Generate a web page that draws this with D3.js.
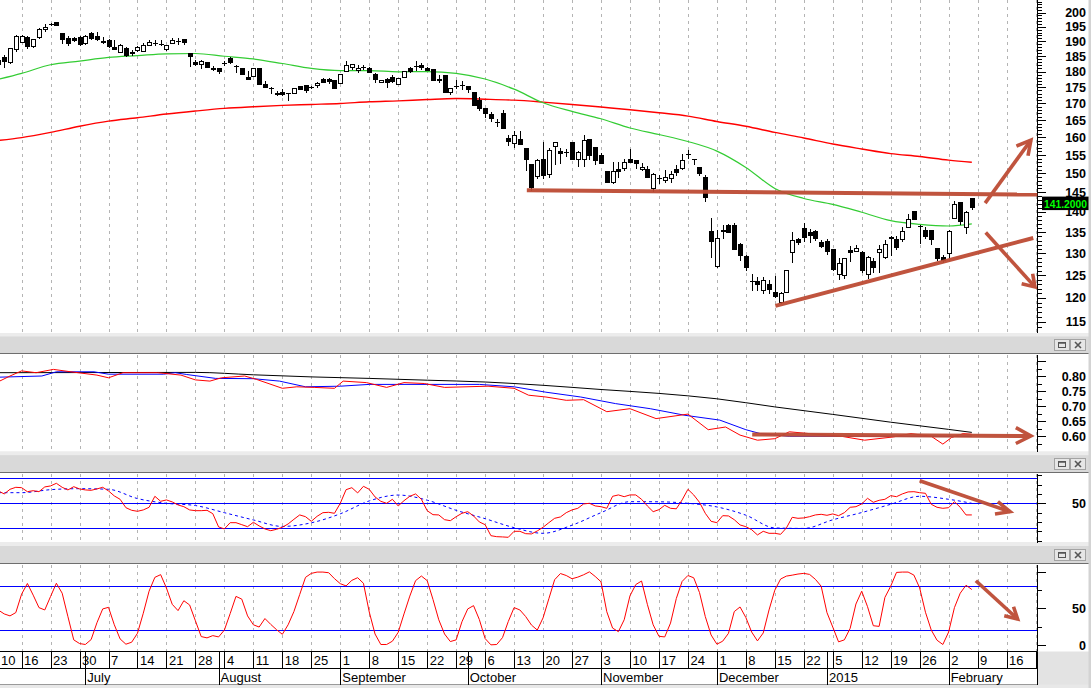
<!DOCTYPE html>
<html><head><meta charset="utf-8">
<script src="https://cdn.jsdelivr.net/npm/d3@7"></script>
<style>
html,body{margin:0;padding:0;background:#fff;}
svg{display:block;font-family:"Liberation Sans",Arial,sans-serif;}
</style></head><body>
<svg id="c" width="1091" height="688"></svg>
<script>
// ---------------- DATA ----------------
const START = -4; // bar index of first candle (Jun 10, 2014); index 0 = Jun 16
const open = [183.8,184.8,183.2,187.3,189.9,191.4,188.5,191.6,194.1,195.8,196.6,192.7,191.0,191.0,191.4,189.4,192.7,191.9,190.1,190.5,188.2,186.5,187.7,186.4,187.1,186.9,188.8,189.5,189.1,187.5,189.4,189.9,190.7,186.0,183.2,182.4,183.1,181.0,181.0,182.6,184.3,181.6,181.0,178.4,178.7,181.0,176.0,174.8,173.3,173.6,173.1,173.1,175.3,175.6,175.0,175.6,177.5,177.6,177.3,176.3,180.3,181.6,180.5,181.3,181.0,179.2,176.6,177.6,178.4,175.9,178.4,181.3,181.4,182.2,181.2,180.7,177.6,178.9,173.4,175.3,175.6,175.3,173.4,171.0,168.5,166.8,164.3,167.0,159.9,158.5,159.5,157.1,152.5,149.3,153.8,149.7,157.6,156.1,155.8,158.6,153.8,153.8,159.5,157.2,155.0,150.7,147.6,151.2,151.4,153.9,153.6,151.1,151.2,146.2,148.6,148.3,148.7,151.1,151.4,155.0,153.8,151.7,149.0,135.3,127.1,135.6,136.8,136.8,132.1,129.3,123.8,123.7,121.7,123.0,121.2,119.2,121.3,130.2,133.3,135.9,135.0,135.3,132.7,132.9,131.0,125.3,125.1,130.8,130.6,130.4,125.3,128.3,130.3,129.2,133.9,133.3,133.3,136.2,140.3,136.5,135.5,135.5,131.2,129.2,130.0,138.4,142.4,136.3,143.4];
const high = [184.0,185.4,187.9,192.2,192.2,191.8,190.8,194.5,196.0,196.2,196.7,192.7,191.8,191.5,191.8,192.2,193.1,193.1,191.4,190.8,190.5,189.0,188.0,187.1,188.4,189.4,190.3,190.5,190.4,188.9,191.0,191.0,190.9,186.1,183.6,183.6,183.2,181.8,181.1,183.3,184.6,182.2,181.2,180.3,181.1,181.1,177.0,175.0,173.8,174.3,173.2,174.9,175.4,175.6,175.5,176.5,177.8,178.0,177.3,179.2,183.3,182.6,182.2,182.2,181.6,179.5,177.3,177.8,178.9,178.0,180.3,181.5,183.3,182.7,181.6,180.7,178.9,178.9,174.9,177.3,177.0,175.5,173.6,172.0,168.6,167.3,165.3,168.0,160.7,161.9,161.9,157.1,152.5,153.8,158.7,156.9,158.6,156.9,156.6,158.6,156.0,160.7,159.5,157.2,155.7,150.7,153.0,153.0,154.0,156.7,153.7,152.7,152.0,150.0,149.6,150.9,150.7,152.2,155.4,156.4,153.9,151.7,149.6,138.4,135.5,136.8,136.9,137.3,132.3,129.5,125.2,124.6,124.6,123.9,124.7,121.3,126.2,135.1,133.5,137.3,135.8,135.5,133.2,133.3,131.0,128.8,128.9,131.7,132.0,130.6,129.4,129.0,131.9,133.2,134.1,134.0,136.2,139.5,140.3,136.8,136.2,135.5,131.2,129.7,135.6,142.7,142.6,140.2,143.6];
const low = [181.7,181.6,182.9,186.9,189.9,187.9,188.2,191.0,193.7,195.6,195.5,189.4,188.8,190.1,188.8,189.1,190.7,190.5,189.6,188.2,187.4,186.4,185.1,185.4,186.8,186.8,188.7,188.8,188.8,187.0,189.3,189.0,189.1,181.9,182.2,181.2,181.6,180.5,179.4,182.2,182.7,180.0,179.2,177.5,178.7,175.9,175.1,173.1,172.6,172.6,171.2,173.1,174.3,173.6,174.7,175.0,176.6,176.3,174.8,176.3,180.3,180.7,179.7,180.7,179.7,176.8,176.6,175.1,176.8,175.9,178.4,180.0,180.5,180.8,180.4,177.3,176.5,173.6,172.8,174.9,174.6,173.6,169.5,168.0,166.0,164.8,163.3,162.6,157.9,157.2,158.1,150.9,145.6,148.7,148.7,149.0,152.6,152.9,154.6,153.8,151.9,151.9,153.8,152.4,152.9,147.8,147.3,149.1,150.9,153.1,151.4,150.9,148.9,145.4,147.4,147.8,147.8,149.6,151.2,154.1,152.6,149.6,142.7,129.2,126.9,133.5,135.1,131.0,128.4,126.2,121.7,121.7,121.0,121.0,120.2,118.9,121.3,128.0,132.2,132.9,132.6,133.1,131.4,129.8,126.2,124.1,124.3,128.3,130.5,125.8,124.3,125.6,125.6,129.0,129.6,131.0,133.0,136.2,138.2,132.5,133.5,132.1,128.4,127.9,129.0,138.4,137.0,134.9,140.7];
const close = [182.6,183.4,187.7,191.8,191.8,188.5,190.7,194.1,195.0,196.0,195.6,190.7,189.4,190.4,189.1,191.8,191.0,190.8,189.8,188.5,187.5,188.8,185.4,186.2,188.0,188.8,189.8,189.3,189.2,188.8,190.3,190.0,189.7,185.1,182.4,183.5,181.6,180.9,180.3,182.8,183.1,181.7,179.2,177.5,181.0,175.9,175.1,174.9,172.8,172.9,173.2,174.8,174.3,174.1,175.2,176.3,176.8,177.0,174.8,179.2,182.2,182.4,181.2,181.4,179.9,177.6,177.3,176.6,177.1,178.0,180.2,180.3,181.8,181.4,180.5,177.3,177.2,173.6,174.8,175.5,175.7,174.3,169.5,168.5,167.2,165.5,164.4,162.6,158.9,160.7,158.1,153.8,146.4,153.6,149.6,156.4,158.6,155.5,155.9,153.8,155.9,159.2,155.0,153.6,152.9,147.8,150.7,150.5,153.0,153.2,152.7,151.7,148.9,149.7,148.7,148.9,149.9,150.4,153.6,155.2,153.8,150.2,143.7,133.0,133.5,135.4,135.1,131.0,129.6,126.9,123.7,123.0,123.9,121.9,120.4,121.0,126.2,133.1,132.7,133.9,134.3,133.7,131.8,130.6,126.4,127.7,128.8,130.3,131.2,126.2,129.2,126.9,131.0,132.2,133.7,131.4,135.2,138.2,138.3,136.4,134.1,133.3,128.8,128.4,135.2,142.0,137.8,140.0,141.2];

// moving averages (sampled)
const maIdx = [-4,0,5,10,15,20,25,30,35,40,45,50,55,60,65,70,75,80,85,90,95,100,105,110,115,120,125,130,135,140,145,150,155,160,164];
const maFast = [177.5,179.4,182.2,183.4,184.6,185.2,185.8,185.9,185.0,184.1,182.6,181.0,180.3,180.3,179.9,180.0,179.4,177.6,174.4,170.2,167.6,165.4,162.7,160.8,158.8,156.1,151.6,146.0,143.4,141.9,139.9,137.8,136.9,136.5,137.0];
const maSlow = [159.1,159.9,161.4,163.2,164.7,165.7,166.8,167.7,168.5,169.0,169.4,169.7,170.0,170.5,170.8,171.2,171.5,171.3,171.0,170.4,169.7,168.9,168.1,167.2,166.2,164.6,163.2,161.4,159.8,158.1,156.7,155.4,154.6,153.6,153.0];

// ratio panel
const ratioBlackIdx = [-4,30,40,50,60,70,80,90,100,110,120,130,140,150,160,164];
const ratioBlack = [0.811,0.812,0.804,0.797,0.792,0.786,0.780,0.769,0.755,0.742,0.724,0.697,0.672,0.646,0.622,0.612];
const ratioBlueIdx = [-4,3.5,6,12.5,15,24.5,26.5,28.5,33.5,40,44.5,49,55,60,79,85,90.5,96.5,102.5,108.5,114.5,120.5,125,127.5,132.5,164];
const ratioBlue = [0.796,0.800,0.814,0.814,0.806,0.806,0.811,0.805,0.792,0.791,0.783,0.764,0.766,0.772,0.772,0.764,0.746,0.730,0.708,0.691,0.669,0.653,0.621,0.608,0.599,0.599];
const ratioRedIdx = [-4,-2,0,2.5,5.5,8.5,13,15,17.5,23.5,27.5,30,32.5,34.5,38.5,40.5,45,47.5,50.5,54,55.5,59.5,63,66,69.5,73,80.5,85,87.5,90.5,94,97,101,105,109.5,115,118.5,121.5,124,127,130,132.5,136,141.5,145.5,150.5,153.5,157,159,160.5,162.5,164];
const ratioRed = [0.781,0.800,0.817,0.811,0.822,0.814,0.803,0.794,0.811,0.811,0.803,0.787,0.783,0.794,0.800,0.789,0.759,0.764,0.762,0.759,0.783,0.778,0.762,0.778,0.775,0.762,0.766,0.759,0.736,0.730,0.719,0.721,0.681,0.691,0.658,0.673,0.621,0.630,0.603,0.586,0.591,0.614,0.608,0.599,0.586,0.597,0.608,0.599,0.573,0.595,0.608,0.606];

// oscillator panel (daily, from START)
const osc = [59.9,57.5,61.2,62.8,62.5,59.3,60.1,59.3,63.1,63.9,66.0,62.8,60.7,63.3,61.5,60.7,60.4,61.5,62.8,59.9,55.9,53.2,46.5,44.4,43.6,44.7,46.8,55.6,51.6,52.7,51.1,48.7,47.3,44.7,44.1,44.1,44.4,41.7,31.1,29.5,34.5,34.5,32.9,31.3,34.8,31.9,29.5,28.1,29.2,30.8,33.5,37.2,40.7,39.3,35.6,39.6,42.5,42.8,42.0,50.0,60.9,62.5,58.3,63.6,61.2,55.1,51.6,50.0,53.2,47.9,52.1,55.6,57.5,53.2,44.1,40.9,40.7,36.9,36.1,39.3,42.0,43.3,39.9,35.1,32.9,24.1,23.3,23.1,22.8,27.6,27.6,25.7,25.5,27.9,30.8,34.5,38.0,39.1,42.5,44.7,46.0,49.5,50.0,47.9,47.3,46.0,55.6,56.7,55.3,56.7,56.7,53.2,47.9,43.3,44.9,48.4,46.0,45.6,52.7,61.2,56.7,50.8,42.0,35.6,34.5,40.1,39.9,36.9,32.7,31.3,28.9,24.7,27.6,26.0,26.0,25.2,30.3,38.8,38.0,38.3,39.3,40.7,41.2,40.4,41.5,40.1,42.5,46.8,47.3,49.5,54.0,50.8,52.4,53.2,56.1,55.3,57.5,59.1,59.3,58.5,58.0,49.2,46.8,46.0,46.5,51.3,46.8,40.7,40.7];
const oscSigIdx = [-4,0,5,10,15,20,25,30,35,40,45,50,55,60,65,70,75,80,85,90,95,100,105,110,115,120,125,130,135,140,145,150,155,160,164];
const oscSig = [58.5,58.5,60.9,61.7,61.2,53.8,50.0,48.2,42.5,36.7,31.5,34.4,41.6,51.9,56.6,52.5,44.4,37.7,30.5,26.0,32.5,42.5,51.3,51.2,50.0,47.1,40.5,30.3,29.9,36.8,42.6,49.2,55.6,53.2,50.0];

// stochastic panel (daily, from START)
const stoch = [47.6,42.4,39.7,44.2,69.4,83.9,68.0,51.0,47.8,66.2,84.2,70.7,38.6,7.0,2.0,0.7,7.4,30.3,49.2,51.4,27.6,8.3,1.1,3.8,16.0,43.3,73.4,92.3,96.0,77.7,55.5,46.9,60.4,54.6,33.0,11.5,9.7,12.8,11.0,20.4,42.9,66.3,62.6,39.7,27.6,24.5,36.1,28.1,20.9,14.6,27.6,45.6,68.9,92.3,97.7,99.5,99.5,98.6,90.5,83.7,80.6,88.2,91.8,84.2,45.1,15.0,0.7,0.7,5.2,17.3,42.4,66.7,87.8,94.1,87.8,62.2,34.4,15.0,4.7,7.0,31.7,49.2,53.7,34.8,8.8,0.2,0.7,10.1,32.1,51.0,47.8,38.8,27.2,20.4,37.0,63.1,89.1,97.5,94.8,90.4,92.6,95.8,99.8,93.5,86.2,45.4,23.1,18.2,34.4,67.1,82.4,87.3,55.5,27.6,11.9,11.0,29.9,63.5,86.7,94.8,91.7,71.6,38.8,13.7,1.1,5.2,15.9,45.6,51.9,37.5,17.7,5.6,16.4,47.8,74.8,90.0,94.0,95.3,96.8,97.7,96.3,89.6,80.2,44.2,24.5,4.3,7.0,22.7,55.9,73.4,52.3,26.3,25.4,64.9,80.2,99.0,99.5,99.5,95.4,77.9,44.7,20.4,6.5,0.7,17.7,51.0,70.7,81.5,75.7];

// axis labels
const weekIdx = [-4,0,5,10,15,20,25,30,35,40,45,50,55,60,65,70,75,80,85,90,95,100,105,110,115,120,125,130,135,140,145,150,155,160,165,170,175];
const weekLabels = ["10","16","23","30","7","14","21","28","4","11","18","25","1","8","15","22","29","6","13","20","27","3","10","17","24","1","8","15","22","5","12","19","26","2","9","16","23"];
const monthIdx = [11,34,55,77,100,120,139,160];
const monthLabels = ["July","August","September","October","November","December","2015","February"];
const priceTicks = [115,120,125,130,135,140,145,150,155,160,165,170,175,180,185,190,195,200];
const ratioTicks = [0.60,0.65,0.70,0.75,0.80];

// annotations (bar index / value)
const resistIdx=[87.2,175.3], resistVal=[145.5,144.4];
const supportIdx=[130.1,174.6], supportVal=[118.3,133.6];
const upIdx=[166.3,174.2], upVal=[142.2,159.2], upHeadIdx=[171.7,174.2,173.7], upHeadVal=[157.5,159.2,154.8];
const dnIdx=[166.4,174.9], dnVal=[134.9,122.4], dnHeadIdx=[172.6,174.9,174.5], dnHeadVal=[123.1,122.4,125.3];
const rArIdx=[126.1,174.2], rArVal=[0.605,0.600], rHeadIdx=[171.6,174.2,171.6], rHeadVal=[0.628,0.600,0.575];
const oArIdx=[155,170.6], oArVal=[68.1,43.3], oHeadIdx=[168.5,170.6,168], oHeadVal=[51.3,43.3,41.4];
const sArIdx=[164.7,171.9], sArVal=[87.7,35.5], sHeadIdx=[169.6,171.9,171.2], sHeadVal=[40,35.5,52.2];

// ---------------- CHART ----------------
const svg = d3.select('#c');
const AX = 1037.5;
const x = d3.scaleLinear().domain([0,175]).range([21.6, 21.6+175*5.794]);
const yP = d3.scaleLog().domain([115,200]).range([321.7,12.7]);
const yR = d3.scaleLinear().domain([0.6,0.8]).range([436,376]);
const yO = d3.scaleLinear().domain([30,70]).range([528.3,478.3]);
const yS = d3.scaleLinear().domain([0,100]).range([645,571.7]);

const panels = [
  {id:'p1', top:0, bottom:333},
  {id:'p2', top:354.5, bottom:451.7},
  {id:'p3', top:473.5, bottom:542.5},
  {id:'p4', top:564.5, bottom:651.5}
];
const defs = svg.append('defs');
panels.forEach(p=>{
  defs.append('clipPath').attr('id','clip-'+p.id).append('rect')
    .attr('x',0).attr('y',p.top).attr('width',AX).attr('height',p.bottom-p.top);
});
defs.append('clipPath').attr('id','clip-axis').append('rect').attr('x',0).attr('y',650).attr('width',AX).attr('height',38);

svg.append('rect').attr('width',1091).attr('height',688).attr('fill','#fff');

// gridlines
const gridIdx = d3.range(0,176,5);
panels.forEach(p=>{
  svg.append('g').attr('clip-path',`url(#clip-${p.id})`).attr('shape-rendering','crispEdges')
    .selectAll('line').data(gridIdx).join('line')
    .attr('x1',d=>Math.round(x(d))+0.5).attr('x2',d=>Math.round(x(d))+0.5)
    .attr('y1',p.top).attr('y2',p.bottom)
    .attr('stroke','#b4b4b4').attr('stroke-dasharray','3,4').attr('stroke-width',1);
});

// headers
const headers = [{y:333},{y:451.7},{y:542.5}];
const hdrEnds = [354,473,564];
headers.forEach((h,k)=>{
  const end = hdrEnds[k];
  svg.append('rect').attr('x',0).attr('y',h.y).attr('width',1091).attr('height',end-h.y).attr('fill','#d9d9d9');
  svg.append('rect').attr('x',0).attr('y',h.y).attr('width',1091).attr('height',3.5).attr('fill','#ececec');
  svg.append('line').attr('x1',0).attr('x2',1091).attr('y1',end-0.5).attr('y2',end-0.5).attr('stroke','#6e6e6e');
  const by = end-14.5;
  [1054.5,1070.5].forEach((bx,j)=>{
    svg.append('rect').attr('x',bx).attr('y',by).attr('width',15).attr('height',11)
      .attr('fill','#e6e6e6').attr('stroke','#a3a3a3');
    if (j===0){
      svg.append('rect').attr('x',bx+4).attr('y',by+3).attr('width',7).attr('height',5)
        .attr('fill','none').attr('stroke','#555').attr('stroke-width',1);
      svg.append('line').attr('x1',bx+4).attr('x2',bx+11).attr('y1',by+3.5).attr('y2',by+3.5).attr('stroke','#555').attr('stroke-width',1.5);
    } else {
      svg.append('path').attr('d',`M${bx+4.5},${by+2.5}L${bx+10.5},${by+8.5}M${bx+10.5},${by+2.5}L${bx+4.5},${by+8.5}`)
        .attr('stroke','#555').attr('stroke-width',1.6);
    }
  });
});

// ---- price panel ----
const gP = svg.append('g').attr('clip-path','url(#clip-p1)');
const maLine = d3.line().x(d=>x(d[0])).y(d=>yP(d[1])).curve(d3.curveMonotoneX);
gP.append('path').attr('d',maLine(maIdx.map((d,k)=>[d,maSlow[k]]))).attr('fill','none').attr('stroke','#ff0000').attr('stroke-width',1.4);
gP.append('path').attr('d',maLine(maIdx.map((d,k)=>[d,maFast[k]]))).attr('fill','none').attr('stroke','#33cc33').attr('stroke-width',1.2);

const candles = open.map((o,k)=>({i:k+START,o,h:high[k],l:low[k],c:close[k]}));
const gc = gP.append('g').attr('shape-rendering','crispEdges');
candles.forEach(d=>{
  const cx = Math.round(x(d.i));
  gc.append('line').attr('x1',cx+0.5).attr('x2',cx+0.5)
    .attr('y1',Math.round(yP(d.h))).attr('y2',Math.round(yP(d.l))+1).attr('stroke','#000');
  const t = Math.round(Math.min(yP(d.o),yP(d.c))), b = Math.round(Math.max(yP(d.o),yP(d.c)));
  if (d.c < d.o) {
    gc.append('rect').attr('x',cx-2).attr('y',t).attr('width',5).attr('height',Math.max(1,b-t+1)).attr('fill','#000');
  } else if (b-t<=1) {
    gc.append('rect').attr('x',cx-2).attr('y',t).attr('width',5).attr('height',1).attr('fill','#000');
  } else {
    gc.append('rect').attr('x',cx-1.5).attr('y',t+0.5).attr('width',4).attr('height',b-t).attr('fill','#fff').attr('stroke','#000');
  }
});

// ---- ratio panel ----
const gR = svg.append('g').attr('clip-path','url(#clip-p2)');
const rl = d3.line().x(d=>x(d[0])).y(d=>yR(d[1]));
gR.append('path').attr('d',rl.curve(d3.curveMonotoneX)(ratioBlackIdx.map((d,k)=>[d,ratioBlack[k]]))).attr('fill','none').attr('stroke','#000');
gR.append('path').attr('d',rl.curve(d3.curveLinear)(ratioBlueIdx.map((d,k)=>[d,ratioBlue[k]]))).attr('fill','none').attr('stroke','#0000ff');
gR.append('path').attr('d',rl.curve(d3.curveLinear)(ratioRedIdx.map((d,k)=>[d,ratioRed[k]]))).attr('fill','none').attr('stroke','#ff0000');

// ---- oscillator panel ----
const gO = svg.append('g').attr('clip-path','url(#clip-p3)');
[70,50,30].forEach(v=>{
  gO.append('line').attr('x1',0).attr('x2',AX).attr('y1',Math.round(yO(v))+0.5).attr('y2',Math.round(yO(v))+0.5).attr('stroke','#0000ff').attr('stroke-width',1.1);
});
gO.append('path').attr('d',d3.line().x(d=>x(d[0])).y(d=>yO(d[1])).curve(d3.curveMonotoneX)(oscSigIdx.map((d,k)=>[d,oscSig[k]])))
  .attr('fill','none').attr('stroke','#0000ff').attr('stroke-dasharray','3,3');
gO.append('path').attr('d',d3.line().x(d=>x(d[0])).y(d=>yO(d[1]))(osc.map((v,k)=>[k+START,v])))
  .attr('fill','none').attr('stroke','#ff0000');

// ---- stochastic panel ----
const gS = svg.append('g').attr('clip-path','url(#clip-p4)');
[80,20].forEach(v=>{
  gS.append('line').attr('x1',0).attr('x2',AX).attr('y1',Math.round(yS(v))+0.5).attr('y2',Math.round(yS(v))+0.5).attr('stroke','#0000ff').attr('stroke-width',1.1);
});
gS.append('path').attr('d',d3.line().x(d=>x(d[0])).y(d=>yS(d[1]))(stoch.map((v,k)=>[k+START,v])))
  .attr('fill','none').attr('stroke','#ff0000');

// ---- right axes ----
const gA = svg.append('g').attr('shape-rendering','crispEdges');
panels.forEach(p=>{
  gA.append('line').attr('x1',AX).attr('x2',AX).attr('y1',p.top).attr('y2',p.bottom).attr('stroke','#000');
});
d3.range(114,205).forEach(v=>{
  const yy = Math.round(yP(v))+0.5;
  if (yy<1||yy>332) return;
  const major = v%5===0;
  gA.append('line').attr('x1',AX).attr('x2',AX+(major?8:4)).attr('y1',yy).attr('y2',yy).attr('stroke','#000');
});
svg.selectAll('text.pl').data(priceTicks).join('text').attr('class','pl')
  .attr('x',1086).attr('y',d=>yP(d)+4.5).attr('text-anchor','end')
  .attr('font-size','12.5px').attr('font-weight','bold').attr('fill','#000').text(d=>d);
d3.range(0.575,0.86,0.025).forEach(v=>{
  const yy = Math.round(yR(v))+0.5;
  if (yy<355||yy>451) return;
  const major = Math.abs(Math.round(v*20)-v*20)<0.01;
  gA.append('line').attr('x1',AX).attr('x2',AX+(major?8:4)).attr('y1',yy).attr('y2',yy).attr('stroke','#000');
});
svg.selectAll('text.rl').data(ratioTicks).join('text').attr('class','rl')
  .attr('x',1086).attr('y',d=>yR(d)+4.5).attr('text-anchor','end')
  .attr('font-size','12.5px').attr('font-weight','bold').text(d=>d.toFixed(2));
d3.range(-4,5).map(k=>50+k*7.5).forEach(v=>{
  const yy = Math.round(yO(v))+0.5;
  if (yy<474||yy>542) return;
  gA.append('line').attr('x1',AX).attr('x2',AX+(v===50?8:4)).attr('y1',yy).attr('y2',yy).attr('stroke','#000');
});
svg.append('text').attr('x',1086).attr('y',yO(50)+4.5).attr('text-anchor','end').attr('font-size','12.5px').attr('font-weight','bold').text('50');
[0,25,50,75,100].forEach(v=>{
  const yy = Math.round(yS(v))+0.5;
  gA.append('line').attr('x1',AX).attr('x2',AX+(v%50===0?8:4)).attr('y1',yy).attr('y2',yy).attr('stroke','#000');
});
[50,0].forEach(v=>{
  svg.append('text').attr('x',1086).attr('y',yS(v)+4.5).attr('text-anchor','end').attr('font-size','12.5px').attr('font-weight','bold').text(v);
});

// last price label
const lastC = close[close.length-1];
svg.append('rect').attr('x',1042).attr('y',yP(lastC)-10.5).attr('width',47).attr('height',13.5).attr('fill','#000');
svg.append('text').attr('x',1044).attr('y',yP(lastC)+1.3).attr('font-size','11.5px').attr('font-weight','bold')
  .attr('fill','#00ff00').attr('textLength',43).attr('lengthAdjust','spacingAndGlyphs').text(lastC.toFixed(4));

// ---- date axis ----
svg.append('rect').attr('x',AX).attr('y',651.5).attr('width',1091-AX).attr('height',36.5).attr('fill','#e3e3e3');
svg.append('rect').attr('x',0).attr('y',684.5).attr('width',1091).attr('height',3.5).attr('fill','#e8e8e8');
const gX = svg.append('g').attr('clip-path','url(#clip-axis)');
const gXl = gX.append('g').attr('shape-rendering','crispEdges');
gXl.append('line').attr('x1',0).attr('x2',AX).attr('y1',651.5).attr('y2',651.5).attr('stroke','#000');
gXl.append('line').attr('x1',0).attr('x2',AX).attr('y1',668.5).attr('y2',668.5).attr('stroke','#000');
gXl.append('line').attr('x1',0).attr('x2',AX).attr('y1',684.5).attr('y2',684.5).attr('stroke','#9a9a9a');
weekIdx.forEach(i=>{
  const xx = Math.round(x(i))+0.5;
  gXl.append('line').attr('x1',xx).attr('x2',xx).attr('y1',652).attr('y2',668).attr('stroke','#000');
});
monthIdx.forEach(i=>{
  const xx = Math.round(x(i))+0.5;
  gXl.append('line').attr('x1',xx).attr('x2',xx).attr('y1',652).attr('y2',684.5).attr('stroke','#000');
});
gX.selectAll('text.wk').data(weekIdx).join('text').attr('class','wk')
  .attr('x',d=>x(d)+2.5).attr('y',665.3).attr('font-size','13px').attr('fill','#000')
  .text((d,k)=>weekLabels[k]);
gX.selectAll('text.mo').data(monthIdx).join('text').attr('class','mo')
  .attr('x',d=>x(d)+2).attr('y',681.7).attr('font-size','13px').attr('fill','#000')
  .text((d,k)=>monthLabels[k]);
svg.append('line').attr('x1',AX).attr('x2',AX).attr('y1',651.5).attr('y2',684.5).attr('stroke','#000').attr('shape-rendering','crispEdges');

// right border strip
svg.append('rect').attr('x',1088.5).attr('y',0).attr('width',2.5).attr('height',688).attr('fill','#d3d3d3');

// ---- annotations ----
const AC = '#bd4b34';
const ga = svg.append('g').attr('fill','none').attr('stroke',AC).attr('stroke-width',3.6).attr('stroke-linejoin','miter').attr('opacity',0.95);
const lp = d3.line().x(d=>x(d[0])).y(d=>yP(d[1]));
const zip = (a,b)=>a.map((d,k)=>[d,b[k]]);
ga.append('path').attr('d',lp(zip(resistIdx,resistVal))).attr('stroke-width',4);
ga.append('path').attr('d',lp(zip(supportIdx,supportVal))).attr('stroke-width',4);
ga.append('path').attr('d',lp(zip(upIdx,upVal)));
ga.append('path').attr('d',lp(zip(upHeadIdx,upHeadVal)));
ga.append('path').attr('d',lp(zip(dnIdx,dnVal)));
ga.append('path').attr('d',lp(zip(dnHeadIdx,dnHeadVal)));
const lr = d3.line().x(d=>x(d[0])).y(d=>yR(d[1]));
ga.append('path').attr('d',lr(zip(rArIdx,rArVal))).attr('stroke-width',4);
ga.append('path').attr('d',lr(zip(rHeadIdx,rHeadVal)));
const lo = d3.line().x(d=>x(d[0])).y(d=>yO(d[1]));
ga.append('path').attr('d',lo(zip(oArIdx,oArVal)));
ga.append('path').attr('d',lo(zip(oHeadIdx,oHeadVal)));
const ls = d3.line().x(d=>x(d[0])).y(d=>yS(d[1]));
ga.append('path').attr('d',ls(zip(sArIdx,sArVal)));
ga.append('path').attr('d',ls(zip(sHeadIdx,sHeadVal)));
</script>
</body></html>
